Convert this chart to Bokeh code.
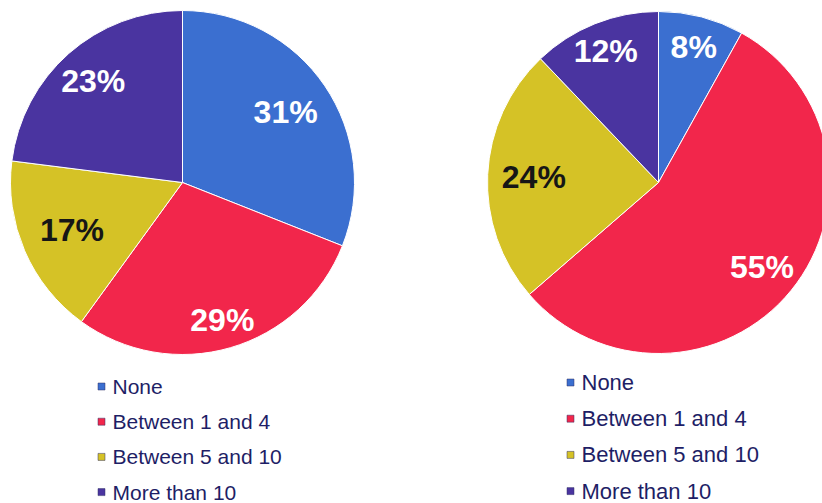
import numpy as np
from bokeh.plotting import figure
from bokeh.models import Range1d, ColumnDataSource
from bokeh.core.properties import value
from bokeh.embed import file_html
from bokeh.resources import INLINE

categories = ["None", "Between 1 and 4", "Between 5 and 10", "More than 10"]
left_values = [31, 29, 17, 23]
right_values = [8, 55, 24, 12]
colors = ["#3b6fd0", "#f2264b", "#d5c226", "#4a34a0"]
label_colors = ["white", "white", "#161616", "white"]

W, H = 822, 503
p = figure(width=W, height=H, output_backend="svg", toolbar_location=None,
           x_range=Range1d(0, W), y_range=Range1d(503 - H, 503),
           min_border=0)
p.axis.visible = False
p.grid.visible = False
p.outline_line_color = None
p.background_fill_color = "white"
p.border_fill_color = "white"


def draw_pie(vals, cx, cy, r, label_r, legend_x, legend_y0, legend_step, legend_size):
    v = np.array(vals, dtype=float)
    frac = v / v.sum()
    cum = np.concatenate([[0], np.cumsum(frac)])
    s_clock = cum[:-1] * 2 * np.pi
    e_clock = cum[1:] * 2 * np.pi
    start = np.pi / 2 - e_clock
    end = np.pi / 2 - s_clock
    src = ColumnDataSource(dict(start=start, end=end, color=colors))
    p.wedge(x=cx, y=cy, radius=r, start_angle="start", end_angle="end",
            fill_color="color", line_color="white", line_width=1, source=src)
    mid = (s_clock + e_clock) / 2
    d = np.array(label_r) * r
    lx = cx + d * np.sin(mid)
    ly = cy + d * np.cos(mid)
    labels = [f"{int(x)}%" for x in vals]
    lsrc = ColumnDataSource(dict(x=lx, y=ly, t=labels, c=label_colors))
    p.text(x="x", y="y", text="t", text_color="c", source=lsrc,
           text_font=value("Liberation Sans"), text_font_style="bold",
           text_font_size="32px", text_align="center", text_baseline="middle")
    # legend
    ys = [legend_y0 - i * legend_step for i in range(len(categories))]
    p.rect(x=[legend_x] * 4, y=ys, width=7, height=7, fill_color=colors,
           line_color="#333366", line_width=0.5)
    p.text(x=[legend_x + 11] * 4, y=ys, text=categories, text_color="#1e1e66",
           text_font=value("Liberation Sans"), text_font_size=legend_size,
           text_align="left", text_baseline="middle")


draw_pie(left_values, 182, 503 - 182, 172, [0.725, 0.83, 0.70, 0.785],
         101, 503 - 386, 35.2, "21px")
draw_pie(right_values, 658, 503 - 182, 171, [0.82, 0.78, 0.73, 0.83],
         570, 503 - 382, 36.2, "22px")

open("out.html", "w").write(file_html(p, INLINE))
